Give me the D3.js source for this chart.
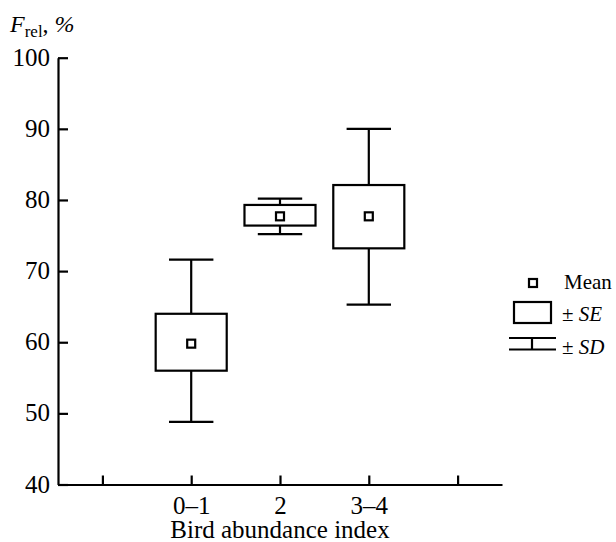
<!DOCTYPE html>
<html>
<head>
<meta charset="utf-8">
<script src="https://cdn.jsdelivr.net/npm/d3@7"></script>
<style>
body { margin: 0; background: #fff; }
text { font-family: "Liberation Serif", "Times New Roman", serif; fill: #000; }
</style>
</head>
<body>
<div id="chart"></div>
<script>
// values
var categories = ["0\u20131", "2", "3\u20134"];
var catPos = [1, 2, 3];
var means = [59.8, 77.7, 77.7];
var seLow = [56.0, 76.4, 73.2];
var seHigh = [64.0, 79.3, 82.1];
var sdLow = [48.8, 75.2, 65.3];
var sdHigh = [71.6, 80.2, 90.0];
var yTicks = [40, 50, 60, 70, 80, 90, 100];
var xTicks = [0, 1, 2, 3, 4];

var width = 616, height = 542;
var lw = 2.2;

var svg = d3.select("#chart").append("svg")
	.attr("width", width)
	.attr("height", height);

var x = d3.scaleLinear().domain([-0.5, 4.5]).range([58, 502]);
var y = d3.scaleLinear().domain([40, 100]).range([484.5, 57.7]);

// axes
var yAxis = svg.append("g").attr("transform", "translate(" + x(-0.5) + ",0)")
	.call(d3.axisLeft(y).tickValues(yTicks).tickSizeInner(-10).tickSizeOuter(0).tickPadding(8));
var xAxis = svg.append("g").attr("transform", "translate(0," + y(40) + ")")
	.call(d3.axisBottom(x).tickValues(xTicks).tickSizeInner(-9).tickSizeOuter(0)
		.tickFormat(function (d) {
			var i = catPos.indexOf(d);
			return i < 0 ? "" : categories[i];
		}));

svg.selectAll("g").attr("font-family", "'Liberation Serif', serif");
svg.selectAll(".domain, .tick line").attr("stroke", "#000").attr("stroke-width", lw);
yAxis.selectAll("text").attr("font-size", 25).attr("dy", "0.3em").attr("fill", "#000");
xAxis.selectAll("text").attr("font-size", 25).attr("y", 29).attr("dy", 0).attr("fill", "#000");

// axis titles
svg.append("text").attr("x", x(2)).attr("y", 538).attr("text-anchor", "middle")
	.attr("font-size", 25).text("Bird abundance index");

var yl = svg.append("text").attr("x", 10).attr("y", 32).attr("font-size", 24);
yl.append("tspan").attr("font-style", "italic").text("F");
yl.append("tspan").attr("font-size", 17).attr("dy", 5).text("rel");
yl.append("tspan").attr("dy", -5).text(", ");
yl.append("tspan").attr("font-style", "italic").text("%");

// boxes
var boxW = 0.8, capW = 0.5, meanSize = 8;
var data = categories.map(function (c, i) {
	return { pos: catPos[i], mean: means[i], seLow: seLow[i], seHigh: seHigh[i], sdLow: sdLow[i], sdHigh: sdHigh[i] };
});

var g = svg.selectAll(".grp").data(data).enter().append("g").attr("class", "grp")
	.attr("fill", "none").attr("stroke", "#000").attr("stroke-width", lw);

// whiskers
g.append("line").attr("x1", function (d) { return x(d.pos); }).attr("x2", function (d) { return x(d.pos); })
	.attr("y1", function (d) { return y(d.sdHigh); }).attr("y2", function (d) { return y(d.seHigh); });
g.append("line").attr("x1", function (d) { return x(d.pos); }).attr("x2", function (d) { return x(d.pos); })
	.attr("y1", function (d) { return y(d.seLow); }).attr("y2", function (d) { return y(d.sdLow); });
g.append("line").attr("x1", function (d) { return x(d.pos - capW / 2); }).attr("x2", function (d) { return x(d.pos + capW / 2); })
	.attr("y1", function (d) { return y(d.sdHigh); }).attr("y2", function (d) { return y(d.sdHigh); });
g.append("line").attr("x1", function (d) { return x(d.pos - capW / 2); }).attr("x2", function (d) { return x(d.pos + capW / 2); })
	.attr("y1", function (d) { return y(d.sdLow); }).attr("y2", function (d) { return y(d.sdLow); });

// SE box
g.append("rect")
	.attr("x", function (d) { return x(d.pos - boxW / 2); })
	.attr("width", function (d) { return x(d.pos + boxW / 2) - x(d.pos - boxW / 2); })
	.attr("y", function (d) { return y(d.seHigh); })
	.attr("height", function (d) { return y(d.seLow) - y(d.seHigh); });

// mean
g.append("rect")
	.attr("x", function (d) { return x(d.pos) - meanSize / 2; })
	.attr("y", function (d) { return y(d.mean) - meanSize / 2; })
	.attr("width", meanSize).attr("height", meanSize);

// legend
var leg = svg.append("g");
var ls = leg.append("g").attr("fill", "none").attr("stroke", "#000").attr("stroke-width", lw);
ls.append("rect").attr("x", 529).attr("y", 279).attr("width", 8).attr("height", 8);
ls.append("rect").attr("x", 514).attr("y", 302).attr("width", 37).attr("height", 21);
ls.append("line").attr("x1", 509).attr("x2", 556).attr("y1", 338).attr("y2", 338);
ls.append("line").attr("x1", 509).attr("x2", 556).attr("y1", 349.5).attr("y2", 349.5);
ls.append("line").attr("x1", 532).attr("x2", 532).attr("y1", 338).attr("y2", 349.5);

leg.append("text").attr("x", 564).attr("y", 289).attr("font-size", 21).text("Mean");
var t1 = leg.append("text").attr("x", 562).attr("y", 321).attr("font-size", 21);
t1.append("tspan").text("\u00b1 ");
t1.append("tspan").attr("font-style", "italic").text("SE");
var t2 = leg.append("text").attr("x", 562).attr("y", 354).attr("font-size", 21);
t2.append("tspan").text("\u00b1 ");
t2.append("tspan").attr("font-style", "italic").text("SD");
</script>
</body>
</html>
